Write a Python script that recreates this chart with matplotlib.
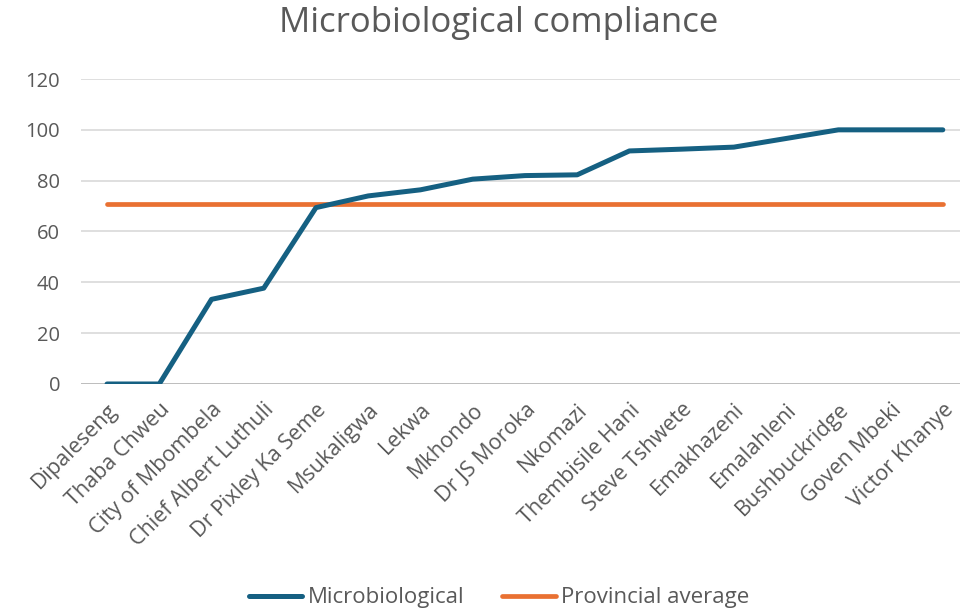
import matplotlib.pyplot as plt
import numpy as np

plt.rcParams['font.family'] = ['Open Sans', 'DejaVu Sans']

municipalities = ['Dipaleseng', 'Thaba Chweu', 'City of Mbombela', 'Chief Albert Luthuli',
                  'Dr Pixley Ka Seme', 'Msukaligwa', 'Lekwa', 'Mkhondo', 'Dr JS Moroka',
                  'Nkomazi', 'Thembisile Hani', 'Steve Tshwete', 'Emakhazeni', 'Emalahleni',
                  'Bushbuckridge', 'Goven Mbeki', 'Victor Khanye']
microbiological = [0, 0, 33.3, 37.7, 69.4, 74.0, 76.4, 80.6, 82.0, 82.3,
                   91.7, 92.4, 93.2, 96.6, 100, 100, 100]
provincial_average = [71.0] * len(municipalities)
y_ticks = [0, 20, 40, 60, 80, 100, 120]

text_color = '#595959'

fig = plt.figure(figsize=(9.6, 6.13), dpi=100)
ax = fig.add_axes([0.0843, 0.3736, 0.925, 0.4975])

x = np.arange(len(municipalities))
ax.plot(x, microbiological, color='#156082', linewidth=3.6, solid_capstyle='round',
        solid_joinstyle='round', label='Microbiological', zorder=3)
ax.plot(x, provincial_average, color='#e97132', linewidth=3.4, solid_capstyle='round',
        label='Provincial average', zorder=2)

ax.set_xlim(-0.5, len(municipalities) - 0.5)
ax.set_ylim(0, 120)
ax.set_yticks(y_ticks)
ax.set_yticklabels([str(v) for v in y_ticks])
ax.set_xticks(x)
ax.set_xticklabels(municipalities, rotation=45, ha='right', rotation_mode='anchor')
ax.grid(axis='y', color='#d9d9d9', linewidth=1.2, zorder=0)
ax.axhline(0, color='#262626', linewidth=1.3, zorder=1)
for s in ax.spines.values():
    s.set_visible(False)
ax.tick_params(axis='both', length=0, colors=text_color)
ax.tick_params(axis='y', labelsize=14.5, pad=15)
ax.tick_params(axis='x', labelsize=15.5, pad=11)

fig.suptitle('Microbiological compliance', x=0.519, y=0.99, fontsize=25, color=text_color)

leg = fig.legend(loc='lower center', bbox_to_anchor=(0.52, -0.025), ncol=2, frameon=False,
                 fontsize=16, handlelength=2.4, handletextpad=0.25, columnspacing=1.7)
for t in leg.get_texts():
    t.set_color(text_color)

fig.savefig('out.png', dpi=100)
